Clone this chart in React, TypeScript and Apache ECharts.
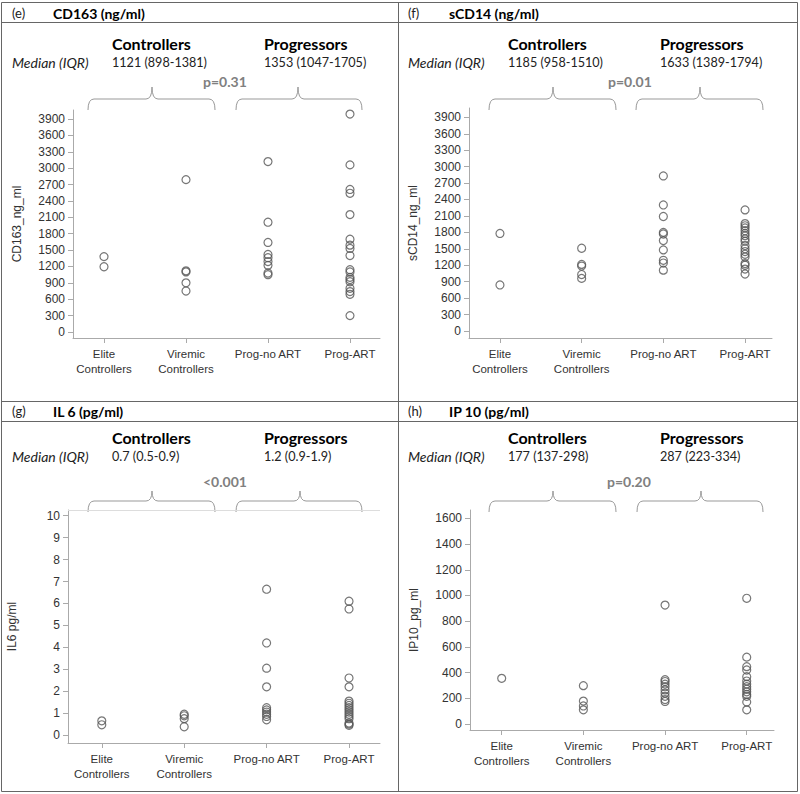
import React, { useEffect, useRef } from "react";
import * as echarts from "echarts";

// ---------- data ----------
const categories = ["Elite\nControllers", "Viremic\nControllers", "Prog-no ART", "Prog-ART"];

const cd163Elite = [1380, 1195];
const cd163Viremic = [2790, 1120, 1100, 900, 750];
const cd163ProgNoArt = [3120, 2010, 1640, 1420, 1360, 1290, 1220, 1080, 1050];
const cd163ProgArt = [3990, 3060, 2610, 2540, 2150, 1700, 1590, 1530, 1400, 1140, 1100, 1000, 960, 920, 800, 740, 690, 300];

const scd14Elite = [1780, 840];
const scd14Viremic = [1510, 1215, 1185, 1030, 960];
const scd14ProgNoArt = [2830, 2300, 2090, 1800, 1770, 1650, 1480, 1290, 1240, 1110];
const scd14ProgArt = [2210, 1960, 1920, 1880, 1830, 1780, 1740, 1680, 1640, 1560, 1500, 1450, 1400, 1350, 1230, 1200, 1130, 1040];

const il6Elite = [0.65, 0.47];
const il6Viremic = [0.95, 0.88, 0.75, 0.38];
const il6ProgNoArt = [6.65, 4.2, 3.05, 2.2, 1.25, 1.15, 1.05, 0.95, 0.85, 0.7];
const il6ProgArt = [6.1, 5.75, 2.6, 2.2, 1.55, 1.45, 1.35, 1.25, 1.15, 1.05, 0.95, 0.85, 0.75, 0.55, 0.5, 0.45];

const ip10Elite = [355];
const ip10Viremic = [298, 178, 140, 110];
const ip10ProgNoArt = [925, 345, 330, 310, 290, 265, 240, 215, 190, 175];
const ip10ProgArt = [978, 520, 446, 420, 368, 334, 310, 290, 270, 250, 230, 215, 170, 110];

const ticksThousands = [0, 300, 600, 900, 1200, 1500, 1800, 2100, 2400, 2700, 3000, 3300, 3600, 3900];
const ticksIl6 = [0, 1, 2, 3, 4, 5, 6, 7, 8, 9, 10];
const ticksIp10 = [0, 200, 400, 600, 800, 1000, 1200, 1400, 1600];

const panelLetters = ["(e)", "(f)", "(g)", "(h)"];
const panelTitles = ["CD163 (ng/ml)", "sCD14 (ng/ml)", "IL 6 (pg/ml)", "IP 10 (pg/ml)"];
const axisNames = ["CD163_ng_ml", "sCD14_ng_ml", "IL6 pg/ml", "IP10_pg_ml"];
const controllersMedian = ["1121 (898-1381)", "1185 (958-1510)", "0.7 (0.5-0.9)", "177 (137-298)"];
const progressorsMedian = ["1353 (1047-1705)", "1633 (1389-1794)", "1.2 (0.9-1.9)", "287 (223-334)"];
const pValues = ["p=0.31", "p=0.01", "<0.001", "p=0.20"];
const groupHeads = ["Controllers", "Progressors"];
const medianLabel = "Median (IQR)";

const panelData = [
  [cd163Elite, cd163Viremic, cd163ProgNoArt, cd163ProgArt],
  [scd14Elite, scd14Viremic, scd14ProgNoArt, scd14ProgArt],
  [il6Elite, il6Viremic, il6ProgNoArt, il6ProgArt],
  [ip10Elite, ip10Viremic, ip10ProgNoArt, ip10ProgArt],
];
const panelTicks = [ticksThousands, ticksThousands, ticksIl6, ticksIp10];

// ---------- layout ----------
const layout = [
  { grid: { left: 73, top: 110, width: 307, height: 228 }, x: [-0.378, 3.366], y: [-110, 4065], dx: 0, top: 0, pX: 203,
    braces: [[88, 215, 152], [236, 362, 298]] },
  { grid: { left: 469, top: 108, width: 303, height: 230 }, x: [-0.379, 3.33], y: [-128, 4070], dx: 396, top: 0, pX: 608,
    braces: [[489, 616, 553], [636, 763, 700]] },
  { grid: { left: 68, top: 510, width: 312, height: 233 }, x: [-0.41, 3.376], y: [-0.36, 10.26], dx: 0, top: 1, pX: 203,
    braces: [[88, 215, 152], [236, 362, 300]], topLine: true },
  { grid: { left: 470, top: 510, width: 304, height: 220 }, x: [-0.388, 3.334], y: [-47, 1665], dx: 396, top: 1, pX: 607,
    braces: [[489, 616, 553], [637, 763, 701]] },
];

const rowY = [
  { title: 13, heads: 43, median: 62, p: 81, bt: 99, btop: 87, bb: 110 },
  { title: 411, heads: 437, median: 456, p: 481, bt: 501, btop: 491, bb: 512 },
];

const TXT = "#222";
const AXIS = "#aaa";
const BORDER = "#666";
const ANNOT_FONT = "Lato";
const AXIS_FONT = "Liberation Sans";

function braceElements(x1: number, x2: number, xm: number, yt: number, ytop: number, yb: number) {
  const st = { stroke: "#999", lineWidth: 1, fill: "none" };
  const r = 6;
  return [
    { type: "bezierCurve", shape: { x1: x1, y1: yb, x2: x1 + r, y2: yt, cpx1: x1, cpy1: yt }, style: st, silent: true },
    { type: "line", shape: { x1: x1 + r, y1: yt, x2: xm - r, y2: yt }, style: st, silent: true },
    { type: "bezierCurve", shape: { x1: xm - r, y1: yt, x2: xm, y2: ytop, cpx1: xm, cpy1: yt }, style: st, silent: true },
    { type: "bezierCurve", shape: { x1: xm, y1: ytop, x2: xm + r, y2: yt, cpx1: xm, cpy1: yt }, style: st, silent: true },
    { type: "line", shape: { x1: xm + r, y1: yt, x2: x2 - r, y2: yt }, style: st, silent: true },
    { type: "bezierCurve", shape: { x1: x2 - r, y1: yt, x2: x2, y2: yb, cpx1: x2, cpy1: yt }, style: st, silent: true },
  ];
}

function text(x: number, y: number, t: string, size: number, weight: string, fill: string, italic = false) {
  return {
    type: "text",
    x,
    y,
    silent: true,
    style: {
      text: t,
      fill,
      fontSize: size,
      fontWeight: weight,
      fontStyle: italic ? "italic" : "normal",
      fontFamily: ANNOT_FONT,
      verticalAlign: "middle",
      align: "left",
    },
  };
}

export default function App() {
  const ref = useRef<HTMLDivElement>(null);

  useEffect(() => {
    if (!ref.current) return;
    const chart = echarts.init(ref.current, undefined, { renderer: "svg" });

    const grids: any[] = [];
    const xAxes: any[] = [];
    const yAxes: any[] = [];
    const series: any[] = [];
    const graphics: any[] = [];

    layout.forEach((L, p) => {
      grids.push({ ...L.grid, containLabel: false });
      xAxes.push({
        type: "value",
        gridIndex: p,
        min: L.x[0],
        max: L.x[1],
        splitLine: { show: false },
        axisLine: { onZero: false, lineStyle: { color: AXIS, width: 1 } },
        axisTick: { show: true, length: 5, lineStyle: { color: AXIS }, customValues: [0, 1, 2, 3] },
        axisLabel: {
          customValues: [0, 1, 2, 3],
          formatter: (v: number) => categories[Math.round(v)] ?? "",
          color: "#333",
          fontSize: 11.5,
          fontFamily: AXIS_FONT,
          lineHeight: 14.5,
          margin: 9,
          verticalAlign: "top",
        },
      });
      yAxes.push({
        type: "value",
        gridIndex: p,
        min: L.y[0],
        max: L.y[1],
        name: axisNames[p],
        nameLocation: "middle",
        nameGap: 50,
        nameTextStyle: { color: "#333", fontSize: 12, fontFamily: AXIS_FONT },
        splitLine: { show: false },
        axisLine: { show: true, onZero: false, lineStyle: { color: AXIS, width: 1 } },
        axisTick: { show: true, length: 5, lineStyle: { color: AXIS }, customValues: panelTicks[p] },
        axisLabel: {
          customValues: panelTicks[p],
          formatter: (v: number) => String(v),
          color: "#333",
          fontSize: 12,
          fontFamily: AXIS_FONT,
          margin: 8,
        },
      });
      panelData[p].forEach((vals, g) => {
        series.push({
          type: "scatter",
          xAxisIndex: p,
          yAxisIndex: p,
          symbol: "circle",
          symbolSize: 8,
          itemStyle: { color: "rgba(0,0,0,0)", borderColor: "#555", borderWidth: 1.2 },
          data: vals.map((v) => [g, v]),
          silent: true,
          markLine: L.topLine && g === 0
            ? {
                silent: true,
                symbol: ["none", "none"],
                label: { show: false },
                lineStyle: { color: "#ddd", width: 1, type: "solid" },
                data: [{ yAxis: L.y[1] }],
              }
            : undefined,
        });
      });

      const R = rowY[L.top];
      const dx = L.dx;
      graphics.push(text(12 + dx, R.title, panelLetters[p], 13, "normal", TXT));
      graphics.push(text(53 + dx, R.title, panelTitles[p], 14, "bold", "#000"));
      graphics.push(text(112 + dx, R.heads, groupHeads[0], 16, "bold", "#000"));
      graphics.push(text(264 + dx, R.heads, groupHeads[1], 16, "bold", "#000"));
      graphics.push(text(12 + dx, R.median, medianLabel, 14, "normal", TXT, true));
      graphics.push(text(112 + dx, R.median, controllersMedian[p], 12.6, "normal", TXT));
      graphics.push(text(264 + dx, R.median, progressorsMedian[p], 12.6, "normal", TXT));
      graphics.push(text(L.pX, R.p, pValues[p], 14, "bold", "#808080"));
      L.braces.forEach((b) => {
        graphics.push(...braceElements(b[0], b[1], b[2], R.bt, R.btop, R.bb));
      });
    });

    // frame
    const fr = { stroke: BORDER, lineWidth: 1, fill: "none" };
    graphics.push({ type: "rect", shape: { x: 1.5, y: 2.5, width: 796, height: 789 }, style: fr, silent: true });
    graphics.push({ type: "line", shape: { x1: 398.5, y1: 2.5, x2: 398.5, y2: 791.5 }, style: fr, silent: true });
    graphics.push({ type: "line", shape: { x1: 1.5, y1: 22.5, x2: 797.5, y2: 22.5 }, style: fr, silent: true });
    graphics.push({ type: "line", shape: { x1: 1.5, y1: 401.5, x2: 797.5, y2: 401.5 }, style: fr, silent: true });
    graphics.push({ type: "line", shape: { x1: 1.5, y1: 421.5, x2: 797.5, y2: 421.5 }, style: fr, silent: true });

    chart.setOption({
      animation: false,
      backgroundColor: "#fff",
      grid: grids,
      xAxis: xAxes,
      yAxis: yAxes,
      series,
      graphic: graphics,
    });

    return () => chart.dispose();
  }, []);

  return (
    <div
      ref={ref}
      style={{ position: "fixed", left: 0, top: 0, width: 800, height: 794, background: "#fff" }}
    />
  );
}
